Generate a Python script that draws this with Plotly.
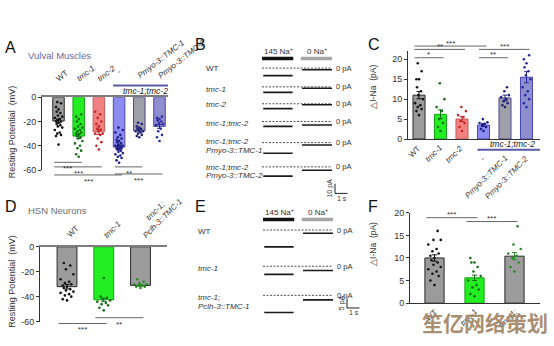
import plotly.graph_objects as go

W, H = 554, 346
FONT = "Arial, 'Liberation Sans', sans-serif"
INK = "#333333"

# ---------------- Panel A: vulval muscle resting potential (mV) ----------------
a_labels = ["WT", "tmc-1", "tmc-2", "-", "Pmyo-3::TMC-1", "Pmyo-3::TMC-2"]
a_mean = [-19.5, -32.0, -28.5, -41.0, -27.5, -24.0]
a_sem = [1.6, 2.0, 2.2, 1.3, 1.0, 1.6]
a_wt = [-4, -5, -8, -10, -12, -13, -15, -16, -17, -18, -19, -20, -20, -21, -22,
        -23, -24, -25, -27, -29, -30, -31, -32, -39]
a_tmc1 = [-14, -16, -18, -20, -22, -24, -25, -26, -27, -28, -29, -30, -31, -32,
          -33, -34, -36, -38, -40, -42, -44, -47, -49]
a_tmc2 = [-12, -14, -17, -20, -22, -24, -26, -27, -28, -30, -30, -31, -34, -37, -40, -43]
a_dko = [-25, -27, -29, -31, -33, -34, -35, -36, -37, -38, -39, -40, -40, -41, -41,
         -42, -42, -43, -43, -44, -45, -46, -47, -48, -49, -50, -52, -54]
a_res1 = [-21, -22, -24, -25, -26, -26, -27, -28, -28, -29, -30, -31, -32, -33]
a_res2 = [-16, -17, -18, -19, -20, -21, -22, -23, -26, -28, -31, -33, -36]
a_sig_pairs = [(0, 1), (0, 2), (0, 3), (3, 4), (3, 5)]
a_sig_text = ["***", "***", "***", "**", "***"]

# ---------------- Panel B: Na+-dependent currents in muscle ----------------
b_rows = [["WT"], ["<i>tmc-1</i>"], ["<i>tmc-2</i>"], ["<i>tmc-1;tmc-2</i>"],
          ["<i>tmc-1;tmc-2</i>", "<i>Pmyo-3::TMC-1</i>"],
          ["<i>tmc-1;tmc-2</i>", "<i>Pmyo-3::TMC-2</i>"]]
b_i145 = [-7.7, -5.7, -5.0, -5.0, -11.0, -9.5]   # pA during 145 mM Na+
b_i0 = [-1.7, -1.4, -1.0, -3.5, -2.5, -3.5]       # pA during 0 mM Na+

# solution exchange protocol (s)
na145_win = [0.0, 2.5]
na0_win = [3.1, 5.6]

# ---------------- Panel C: delta I-Na in muscle (pA) ----------------
c_labels = ["WT", "tmc-1", "tmc-2", "-", "Pmyo-3::TMC-1", "Pmyo-3::TMC-2"]
c_mean = [11.0, 6.2, 5.0, 3.5, 10.3, 15.5]
c_sem = [0.9, 1.1, 0.6, 0.35, 0.7, 1.4]
c_wt = [6, 7, 7.5, 8, 8.5, 9, 10, 11, 12, 13, 15, 15, 17, 19]
c_tmc1 = [2, 3, 4, 5, 7, 8, 10, 14]
c_tmc2 = [2, 3, 4, 4.5, 5.5, 6, 7, 8]
c_dko = [2, 2.5, 3, 3.5, 3.8, 4, 4.2, 5]
c_res1 = [8, 8.5, 9, 9.5, 10, 10.5, 11, 12, 13]
c_res2 = [8, 9, 10, 11, 12, 13, 15, 16, 17, 18, 19, 20, 21]
c_sig_pairs = [(0, 1), (0, 2), (0, 3), (3, 4), (3, 5)]
c_sig_text = ["*", "**", "***", "**", "***"]

# ---------------- Panel D: HSN resting potential (mV) ----------------
d_labels = ["WT", "tmc-1", "tmc-1;<br>Pclh-3::TMC-1"]
d_mean = [-32.0, -42.5, -31.0]
d_sem = [1.8, 1.3, 0.7]
d_wt = [-13, -15, -18, -22, -26, -28, -29, -30, -31, -32, -33, -34, -35, -36,
        -37, -38, -39, -40, -42, -43]
d_tmc1 = [-25, -40, -41, -42, -43, -44, -45, -46, -47, -49, -51]
d_res = [-26, -28, -29, -30, -30, -31, -31, -32, -32, -33]
d_sig_pairs = [(0, 1), (1, 2)]
d_sig_text = ["***", "**"]

# ---------------- Panel E: Na+-dependent currents in HSN ----------------
e_rows = [["WT"], ["<i>tmc-1</i>"], ["<i>tmc-1;</i>", "<i>Pclh-3::TMC-1</i>"]]
e_i145 = [-8.7, -4.2, -8.8]
e_i0 = [-1.7, -2.2, -2.3]

# ---------------- Panel F: delta I-Na in HSN (pA) ----------------
f_labels = ["WT", "tmc-1", "tmc-1;"]
f_mean = [10.0, 5.6, 10.4]
f_sem = [0.7, 0.6, 0.8]
f_wt = [4, 5, 6, 6.5, 7, 7.5, 8, 8.5, 9, 9.5, 10, 10.5, 11, 11.5, 12, 13, 14, 14, 16]
f_tmc1 = [1.5, 2, 3, 3.5, 4, 5, 6, 7, 8, 9, 9, 10]
f_res = [7, 8, 9, 10, 10.5, 11, 12, 13, 17]
f_sig_pairs = [(0, 1), (1, 2)]
f_sig_text = ["***", "***"]

# ---------------- styling ----------------
GRAY = dict(fill="#9b9b9b", edge="#2b2b2b", dot="#111111")
GREEN = dict(fill="#22ee22", edge="#17a017", dot="#156f15")
RED = dict(fill="#f28282", edge="#c65a5a", dot="#c42626")
BLUE = dict(fill="#8b8bf0", edge="#4848b0", dot="#1e1e88")
RES1 = dict(fill="#a0a0aa", edge="#4a4a92", dot="#22227a")
RES2 = dict(fill="#8f8fd0", edge="#4646b0", dot="#2a2aa2")
RESG = dict(fill="#9c9c9c", edge="#2b2b2b", dot="#2a8a2a")
BRACKET = "#5a5aaa"

fig = go.Figure()
axes = {}
annotations = []
shapes = []


def pxx(p):
    return p / W


def pxy(p):
    return 1 - p / H


def ann(x, y, text, size=9, xanchor="center", yanchor="middle", angle=0,
        color=INK, family=FONT):
    annotations.append(dict(
        x=pxx(x), y=pxy(y), xref="paper", yref="paper", text=text,
        showarrow=False, xanchor=xanchor, yanchor=yanchor, textangle=angle,
        font=dict(size=size, color=color, family=family), borderpad=0))


def hline(x0, x1, y, color="#555555", width=1):
    shapes.append(dict(type="line", xref="paper", yref="paper",
                       x0=pxx(x0), x1=pxx(x1), y0=pxy(y), y1=pxy(y),
                       line=dict(color=color, width=width)))


class Panel:
    def __init__(self, n, left, right, top, bottom, xr, yr):
        self.n, self.left, self.right, self.top, self.bottom = n, left, right, top, bottom
        self.xr, self.yr = xr, yr
        self.xa = "x" if n == 1 else f"x{n}"
        self.ya = "y" if n == 1 else f"y{n}"
        self.xkey = "xaxis" if n == 1 else f"xaxis{n}"
        self.ykey = "yaxis" if n == 1 else f"yaxis{n}"

    def px(self, x):
        return self.left + (x - self.xr[0]) / (self.xr[1] - self.xr[0]) * (self.right - self.left)

    def py(self, y):
        return self.bottom - (y - self.yr[0]) / (self.yr[1] - self.yr[0]) * (self.bottom - self.top)

    def setup(self, xopts, yopts):
        base = dict(showgrid=False, zeroline=False, fixedrange=True)
        axes[self.xkey] = dict(base, domain=[pxx(self.left), pxx(self.right)],
                               range=self.xr, anchor=self.ya, **xopts)
        axes[self.ykey] = dict(base, domain=[pxy(self.bottom), pxy(self.top)],
                               range=self.yr, anchor=self.xa, **yopts)


def spread(vals, center, half):
    """Deterministic bee-swarm style offsets for the dot overlay."""
    pattern = [0, -0.6, 0.6, -0.3, 0.3, -0.9, 0.9, -0.15, 0.45, -0.45]
    order = sorted(range(len(vals)), key=lambda i: vals[i])
    xs = [center] * len(vals)
    for k, i in enumerate(order):
        xs[i] = center + pattern[k % len(pattern)] * half
    return xs


def bar_panel(p, means, sems, groups, styles, bw, yticks, top_axis):
    p.setup(
        dict(showline=True, linecolor="#7d7d7d" if top_axis else "#333333",
             linewidth=1.5 if top_axis else 1, side="top" if top_axis else "bottom",
             showticklabels=False, ticks=""),
        dict(showline=True, linecolor="#333333", linewidth=1, ticks="outside",
             ticklen=3, tickwidth=1, tickcolor="#333333", tickvals=yticks,
             ticktext=[str(v).replace("-", "-") for v in yticks],
             tickfont=dict(size=9, color=INK, family=FONT)))
    for i, (m, s, st) in enumerate(zip(means, sems, styles)):
        fig.add_trace(go.Bar(
            x=[i], y=[m], width=bw, xaxis=p.xa, yaxis=p.ya,
            marker=dict(color=st["fill"], line=dict(color=st["edge"], width=1)),
            error_y=dict(type="data", array=[s], color=st["dot"], thickness=1, width=2.5),
            showlegend=False, hoverinfo="skip"))
    for i, (pts, st) in enumerate(zip(groups, styles)):
        fig.add_trace(go.Scatter(
            x=spread(pts, i, bw * 0.36), y=pts, mode="markers", xaxis=p.xa, yaxis=p.ya,
            marker=dict(size=2.6, color=st["dot"]), cliponaxis=False,
            showlegend=False, hoverinfo="skip"))


def sig_brackets(p, pairs, texts, levels, bw, below):
    for (i, j), t, ypx in zip(pairs, texts, levels):
        x0 = p.px(i - bw / 2) + 1.5
        x1 = p.px(j) + 3
        hline(x0, x1, ypx, color="#555555", width=0.9)
        xm = (x0 + x1) / 2
        if below:
            ann(xm, ypx + 1, t, size=8, yanchor="top")
        else:
            ann(xm, ypx + 2.5, t, size=8, yanchor="bottom")


def trace_panel(p, zeros, i145, i0, hdr_y, sb_x, sb_y, sb_pa):
    p.setup(dict(visible=False), dict(visible=False))
    # solution application bars
    fig.add_trace(go.Scatter(x=na145_win, y=[hdr_y, hdr_y], mode="lines", xaxis=p.xa,
                             yaxis=p.ya, line=dict(color="#111111", width=3.5),
                             showlegend=False, hoverinfo="skip"))
    fig.add_trace(go.Scatter(x=na0_win, y=[hdr_y, hdr_y], mode="lines", xaxis=p.xa,
                             yaxis=p.ya, line=dict(color="#a5a5a5", width=3.5),
                             showlegend=False, hoverinfo="skip"))
    for z, a, b in zip(zeros, i145, i0):
        fig.add_trace(go.Scatter(x=[na145_win[0], na0_win[1]], y=[z, z], mode="lines",
                                 xaxis=p.xa, yaxis=p.ya,
                                 line=dict(color="#222222", width=0.8, dash="2px,1.5px"),
                                 showlegend=False, hoverinfo="skip"))
        fig.add_trace(go.Scatter(x=[na145_win[0] + 0.1, na145_win[1] - 0.05], y=[z + a, z + a],
                                 mode="lines", xaxis=p.xa, yaxis=p.ya,
                                 line=dict(color="#1a1a1a", width=1.6),
                                 showlegend=False, hoverinfo="skip"))
        fig.add_trace(go.Scatter(x=[na0_win[0] + 0.1, na0_win[1]], y=[z + b, z + b],
                                 mode="lines", xaxis=p.xa, yaxis=p.ya,
                                 line=dict(color="#1a1a1a", width=1.6),
                                 showlegend=False, hoverinfo="skip"))
        ann(p.px(na0_win[1]) + 3, p.py(z), "0 pA", size=7.5, xanchor="left")
    # scale bar
    fig.add_trace(go.Scatter(x=[sb_x, sb_x, sb_x + 1], y=[sb_y + sb_pa, sb_y, sb_y],
                             mode="lines", xaxis=p.xa, yaxis=p.ya,
                             line=dict(color="#222222", width=1),
                             showlegend=False, hoverinfo="skip"))
    ann(p.px(sb_x) - 5, (p.py(sb_y) + p.py(sb_y + sb_pa)) / 2, f"{sb_pa} pA", size=7,
        angle=-90)
    ann(p.px(sb_x + 0.5) + 1, p.py(sb_y) + 5, "1 s", size=7)
    ann(p.px(na145_win[0]) + 16, p.py(hdr_y) - 8, "145 Na<sup>+</sup>", size=8)
    ann(p.px(na0_win[0]) + 16, p.py(hdr_y) - 8, "0 Na<sup>+</sup>", size=8)


# ---------------- Panel A ----------------
pA = Panel(1, 42, 168, 95, 170, [-0.817, 5.421], [-60, 0])
bar_panel(pA, a_mean, a_sem, [a_wt, a_tmc1, a_tmc2, a_dko, a_res1, a_res2],
          [GRAY, GREEN, RED, BLUE, RES1, RES2], 0.57, [0, -20, -40, -60], True)
for i, lab in enumerate(a_labels):
    txt = lab if lab in ("WT", "-") else f"<i>{lab}</i>"
    yb = 75 if lab == "-" else (79 if i >= 4 else 82)
    ann(pA.px(i) - 5, yb, txt, size=8, xanchor="left", yanchor="bottom", angle=-38)
hline(pA.px(3) - 6, pA.right, 83, color=BRACKET, width=2)
ann((pA.px(3) + pA.right) / 2 + 2, 89, "<i>tmc-1;tmc-2</i>", size=8.5, color="#222222")
sig_brackets(pA, a_sig_pairs, a_sig_text, [162, 166.7, 175, 166.7, 174], 0.57, True)
ann(12, 131, "Resting Potential  (mV)", size=9, angle=-90)
ann(4, 44, "A", size=16, xanchor="left", color="#111111")
ann(27, 52, "Vulval Muscles", size=9.5, xanchor="left", color="#676ba0")

# ---------------- Panel B ----------------
pB = Panel(2, 255, 362, 40, 205, [-0.56, 8.0], [0, 165])
b_zero_px = [65, 84.3, 101.7, 120, 141.7, 166.7]
trace_panel(pB, [pB.bottom - z for z in b_zero_px], b_i145, b_i0, 150, 5.84, 11, 10)
b_label_px = [[65], [86.7], [102], [121.7], [141, 150], [167, 176]]
for lines, ys in zip(b_rows, b_label_px):
    for t, y in zip(lines, ys):
        ann(205, y, t, size=8, xanchor="left")
ann(194, 41, "B", size=16, xanchor="left", color="#111111")

# ---------------- Panel C ----------------
pC = Panel(3, 408, 540, 47.7, 138, [-0.512, 5.628], [0, 22])
bar_panel(pC, c_mean, c_sem, [c_wt, c_tmc1, c_tmc2, c_dko, c_res1, c_res2],
          [GRAY, GREEN, RED, BLUE, RES1, RES2], 0.56, [0, 5, 10, 15, 20], False)
for i, lab in enumerate(c_labels):
    txt = lab if lab in ("WT", "-") else f"<i>{lab}</i>"
    yt = 141 if i < 3 else 152
    ann(pC.px(i) + 5, yt, txt, size=8, xanchor="right", yanchor="top", angle=-45)
hline(pC.px(3) - 6, pC.right, 149, color=BRACKET, width=2)
ann((pC.px(3) + pC.right) / 2 + 1, 143, "<i>tmc-1;tmc-2</i>", size=8.5, color="#222222")
sig_brackets(pC, c_sig_pairs, c_sig_text, [54.3, 45.7, 42.3, 54.3, 45.7], 0.56, False)
ann(373, 84, "\u25b3I-Na  (pA)", size=8.5, angle=-90)
ann(367, 41, "C", size=16, xanchor="left", color="#111111")

# ---------------- Panel D ----------------
pD = Panel(4, 40, 167, 249, 326, [-0.735, 2.721], [-60, 0])
bar_panel(pD, d_mean, d_sem, [d_wt, d_tmc1, d_res], [GRAY, GREEN, RESG], 0.54,
          [0, -20, -40, -60], True)
for i, lab in enumerate(d_labels):
    txt = lab if lab == "WT" else f"<i>{lab}</i>"
    dx = -8 if i == 2 else -3
    ann(pD.px(i) + dx, 243, txt, size=8, xanchor="left", yanchor="bottom", angle=-45)
sig_brackets(pD, d_sig_pairs, d_sig_text, [328, 322], 0.54, True)
ann(12, 285, "Resting Potential  (mV)", size=9, angle=-90)
ann(4, 207, "D", size=16, xanchor="left", color="#111111")
ann(27, 212, "HSN Neurons", size=9.5, xanchor="left", color="#6e6e6e")

# ---------------- Panel E ----------------
pE = Panel(5, 255, 362, 205, 330, [-0.64, 7.92], [0, 62.5])
e_zero_px = [231.7, 269, 299]
trace_panel(pE, [(pE.bottom - z) / 2 for z in e_zero_px], e_i145, e_i0, 54.5, 6.72, 9, 5)
e_label_px = [[233], [271], [301, 310]]
for lines, ys in zip(e_rows, e_label_px):
    for t, y in zip(lines, ys):
        ann(197, y, t, size=8, xanchor="left")
ann(194, 208, "E", size=16, xanchor="left", color="#111111")

# ---------------- Panel F ----------------
pF = Panel(6, 410, 540, 214, 307, [-0.6125, 2.6375], [0, 20])
bar_panel(pF, f_mean, f_sem, [f_wt, f_tmc1, f_res], [GRAY, GREEN, RESG], 0.48,
          [0, 5, 10, 15, 20], False)
for i, lab in enumerate(f_labels):
    txt = lab if lab == "WT" else f"<i>{lab}</i>"
    ann(pF.px(i) + 6, 310, txt, size=8, xanchor="right", yanchor="top", angle=-45)
sig_brackets(pF, f_sig_pairs, f_sig_text, [219, 223], 0.48, False)
ann(373, 246, "\u25b3I-Na  (pA)", size=8.5, angle=-90)
ann(367, 208, "F", size=16, xanchor="left", color="#111111")

# site watermark
ann(485, 326, "<b>笙亿网络策划</b>", size=21, color="rgba(163,136,104,0.95)",
    family="'Noto Sans CJK SC', sans-serif")

fig.update_layout(
    width=W, height=H, margin=dict(l=0, r=0, t=0, b=0),
    paper_bgcolor="white", plot_bgcolor="white", showlegend=False,
    barmode="overlay", font=dict(family=FONT, color=INK),
    annotations=annotations, shapes=shapes, **axes)

fig.write_html("out.html")
